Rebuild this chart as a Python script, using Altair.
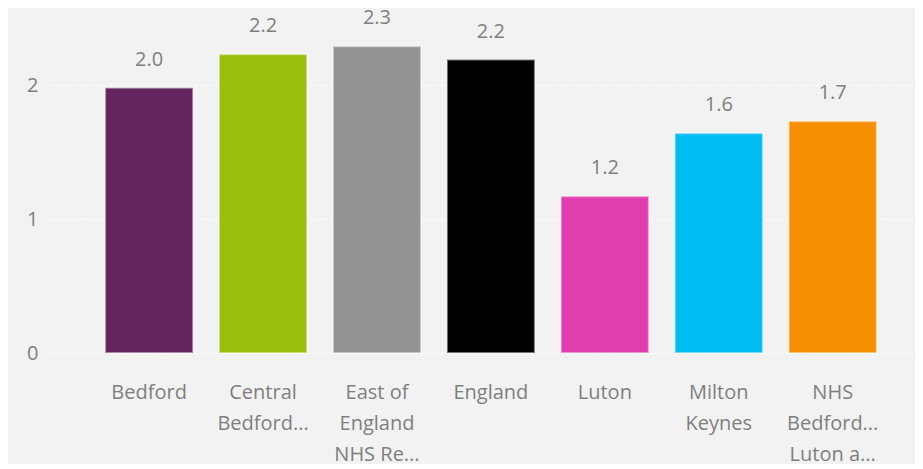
import altair as alt
import pandas as pd

categories = [
    "Bedford",
    "Central Bedfordshire",
    "East of England NHS Region",
    "England",
    "Luton",
    "Milton Keynes",
    "NHS Bedfordshire, Luton and Milton Keynes",
]
values = [1.98, 2.23, 2.29, 2.19, 1.17, 1.64, 1.73]
value_labels = ["2.0", "2.2", "2.3", "2.2", "1.2", "1.6", "1.7"]
tick_lines = [
    ["Bedford"],
    ["Central", "Bedford..."],
    ["East of", "England", "NHS Re..."],
    ["England"],
    ["Luton"],
    ["Milton", "Keynes"],
    ["NHS", "Bedford...", "Luton a..."],
]
colors = ["#64245f", "#99bf0c", "#949494", "#000000", "#e03daf", "#00bcf0", "#f38f00"]

df = pd.DataFrame({"cat": categories, "val": values, "lab": value_labels})

label_map = "{" + ",".join(
    "'" + c.replace("'", "\\'") + "':[" + ",".join("'" + l + "'" for l in lines) + "]"
    for c, lines in zip(categories, tick_lines)
) + "}"

FONT = "Open Sans"
GRAY = "#7f7f7f"

x = alt.X(
    "cat:N",
    sort=categories,
    title=None,
    scale=alt.Scale(paddingInner=0.228, paddingOuter=0.41, align=0.59),
    axis=alt.Axis(
        labelAngle=0,
        labelExpr=label_map + "[datum.label]",
        labelFont=FONT,
        labelFontSize=20,
        labelColor=GRAY,
        labelLineHeight=31,
        labelPadding=29,
        labelLimit=0,
        ticks=False,
        domain=False,
        grid=False,
        labelBaseline="top",
    ),
)

y = alt.Y(
    "val:Q",
    title=None,
    scale=alt.Scale(domain=[0, 2.5], nice=False),
    axis=alt.Axis(
        values=[0, 1, 2],
        format="d",
        labelFont=FONT,
        labelFontSize=20,
        labelColor=GRAY,
        labelPadding=12,
        ticks=False,
        domain=False,
        grid=True,
        gridColor="#ffffff",
        gridDash=[2, 3],
        gridWidth=1.5,
    ),
)

bars = alt.Chart(df).mark_bar(stroke="#ffffff", strokeOpacity=0.45, strokeWidth=2).encode(
    x=x,
    y=y,
    color=alt.Color("cat:N", sort=categories, scale=alt.Scale(domain=categories, range=colors), legend=None),
)

text = alt.Chart(df).mark_text(
    baseline="bottom", dy=-18, font=FONT, fontSize=20, color=GRAY
).encode(x=alt.X("cat:N", sort=categories), y="val:Q", text="lab:N")

chart = (
    alt.layer(bars, text)
    .properties(width=865, height=335, background="#f2f2f2",
                padding={"left": 18, "top": 0, "right": 0, "bottom": 0})
    .configure_view(stroke=None)
)

chart.save("out.html", embed_options={"renderer": "svg", "actions": False})
